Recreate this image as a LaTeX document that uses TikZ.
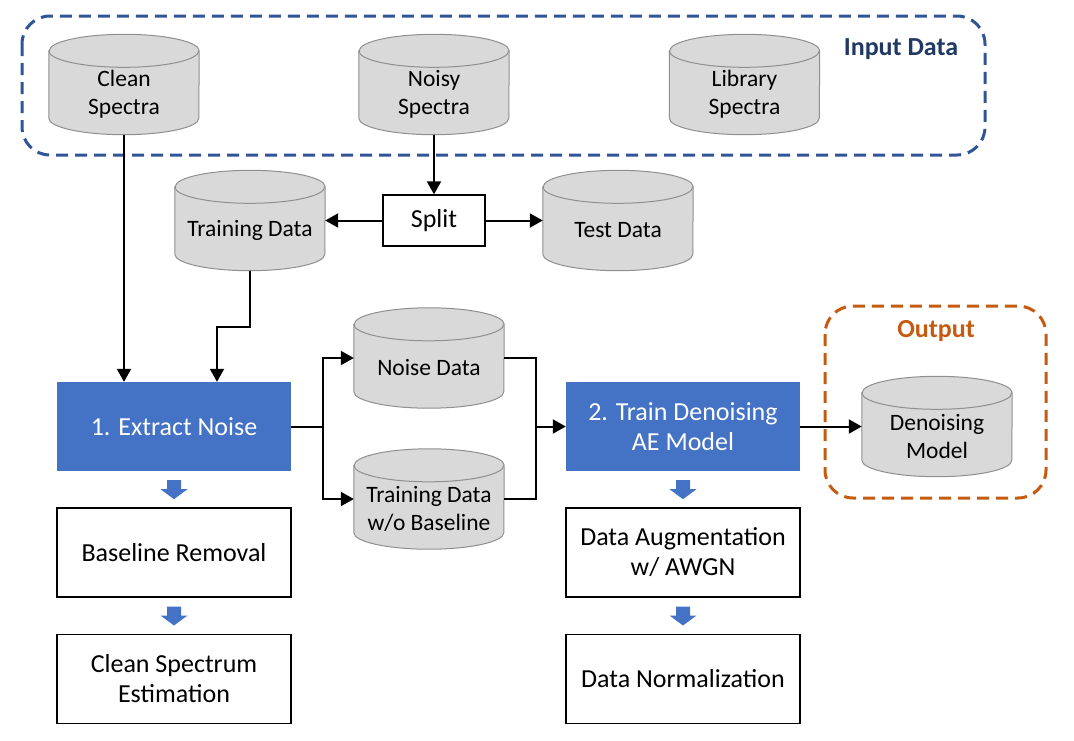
\documentclass[tikz,border=0pt]{standalone}
\usepackage{fontspec}
\setmainfont{Carlito}
\usetikzlibrary{arrows.meta, positioning, calc, backgrounds}

\definecolor{procblue}{HTML}{4472C4}
\definecolor{frameblue}{HTML}{2F5597}
\definecolor{titleblue}{HTML}{203864}
\definecolor{outorange}{HTML}{C55A11}
\definecolor{dbfill}{HTML}{D9D9D9}
\definecolor{dbline}{HTML}{8F8F8F}

\begin{document}
\begin{tikzpicture}[
    x=1pt, y=1pt,
    node distance=36pt,
    db/.style={rectangle, minimum width=150pt, minimum height=100pt, inner sep=0pt},
    dbtext/.style={align=center, font=\fontsize{23.5}{28}\selectfont, yshift=-9.5pt},
    proc/.style={rectangle, fill=procblue, text=white, minimum width=234pt, minimum height=89pt, align=center, font=\fontsize{26}{30}\selectfont},
    stepbox/.style={rectangle, draw, line width=1.3pt, minimum width=234pt, minimum height=89pt, align=center, font=\fontsize{26}{30}\selectfont},
    frame/.style={line width=3pt, rounded corners=28pt, dash pattern=on 12pt off 7pt},
    arrow/.style={-{Triangle[length=13pt,width=14pt]}, line width=2pt},
    line/.style={line width=2pt},
    pics/downarr/.style={code={\fill[procblue] (-7,9) -- (7,9) -- (7,0) -- (13.5,0) -- (0,-10) -- (-13.5,0) -- (-7,0) -- cycle;}}
]
\useasboundingbox (0,0) rectangle (1074,-740);

% Frames
\draw[frame, frameblue] (22,-16) rectangle (985,-155);
\draw[frame, outorange] (825,-306) rectangle (1046,-498);
\node[font=\fontsize{26}{30}\selectfont\bfseries, text=titleblue] (intitle) at (901,-49) {Input Data};
\node[font=\fontsize{26}{30}\selectfont\bfseries, text=outorange] (outtitle) at (936,-331) {Output};

% Data stores
\node[db, label={[dbtext]center:Clean\\Spectra}] (clean) at (124,-84.5) {};
\node[db, label={[dbtext]center:Noisy\\Spectra}] (noisy) at (434,-84.5) {};
\node[db, label={[dbtext]center:Library\\Spectra}] (library) at (744.5,-84.5) {};
\node[db, label={[dbtext]center:Training Data}] (train) at (250,-220.5) {};
\node[db, label={[dbtext]center:Test Data}] (test) at (618,-220.5) {};
\node[db, label={[dbtext]center:Noise Data}] (noise) at (429,-358) {};
\node[db, label={[dbtext]center:Training Data\\w/o Baseline}] (trainwo) at (429,-499) {};
\node[db, label={[dbtext]center:Denoising\\Model}] (denmodel) at (937,-426.5) {};

\begin{scope}[on background layer]
\foreach \db in {clean,noisy,library,train,test,noise,trainwo,denmodel} {
    \draw[dbline, line width=1pt, fill=dbfill] ([yshift=-16.5pt]\db.north west) -- ([yshift=16.5pt]\db.south west)
        arc[start angle=180, end angle=360, x radius=75pt, y radius=16.5pt] -- ([yshift=-16.5pt]\db.north east)
        arc[start angle=0, end angle=180, x radius=75pt, y radius=16.5pt] -- cycle;
    \draw[dbline, line width=1pt] ([yshift=-16.5pt]\db.north west) arc[start angle=180, end angle=360, x radius=75pt, y radius=16.5pt];
}
\end{scope}

% Split
\node[rectangle, draw, line width=1.3pt, minimum width=102pt, minimum height=51pt, font=\fontsize{26}{30}\selectfont] (split) at (434,-220.5) {Split};

% Processing steps
\node[proc] (extract) at (174,-426.5) {1. Extract Noise};
\node[stepbox, below=of extract] (baseline) {Baseline Removal};
\node[stepbox, below=of baseline] (cse) {Clean Spectrum\\Estimation};

\node[proc] (trainae) at (683,-426.5) {2. Train Denoising\\AE Model};
\node[stepbox, below=of trainae] (aug) {Data Augmentation\\w/ AWGN};
\node[stepbox, below=of aug] (norm) {Data Normalization};

\pic at ($(extract.south)!0.5!(baseline.north)$) {downarr};
\pic at ($(baseline.south)!0.5!(cse.north)$) {downarr};
\pic at ($(trainae.south)!0.5!(aug.north)$) {downarr};
\pic at ($(aug.south)!0.5!(norm.north)$) {downarr};

% Arrows
\draw[arrow] (clean.south) -- (clean.south |- extract.north);
\draw[arrow] (noisy.south) -- (split.north);
\draw[arrow] (split.west) -- (train.east);
\draw[arrow] (split.east) -- (test.west);
\draw[arrow] (train.south) -- ++(0,-56) -| ([xshift=43pt]extract.north);

\draw[line] (extract.east) -- ++(32,0) coordinate (fork);
\draw[arrow] (fork) |- (noise.west);
\draw[arrow] (fork) |- (trainwo.west);

\coordinate (join) at ([xshift=-30pt]trainae.west);
\draw[line] (noise.east) -| (join);
\draw[line] (trainwo.east) -| (join);
\draw[arrow] (join) -- (trainae.west);
\draw[arrow] (trainae.east) -- (denmodel.west);

\end{tikzpicture}
\end{document}
